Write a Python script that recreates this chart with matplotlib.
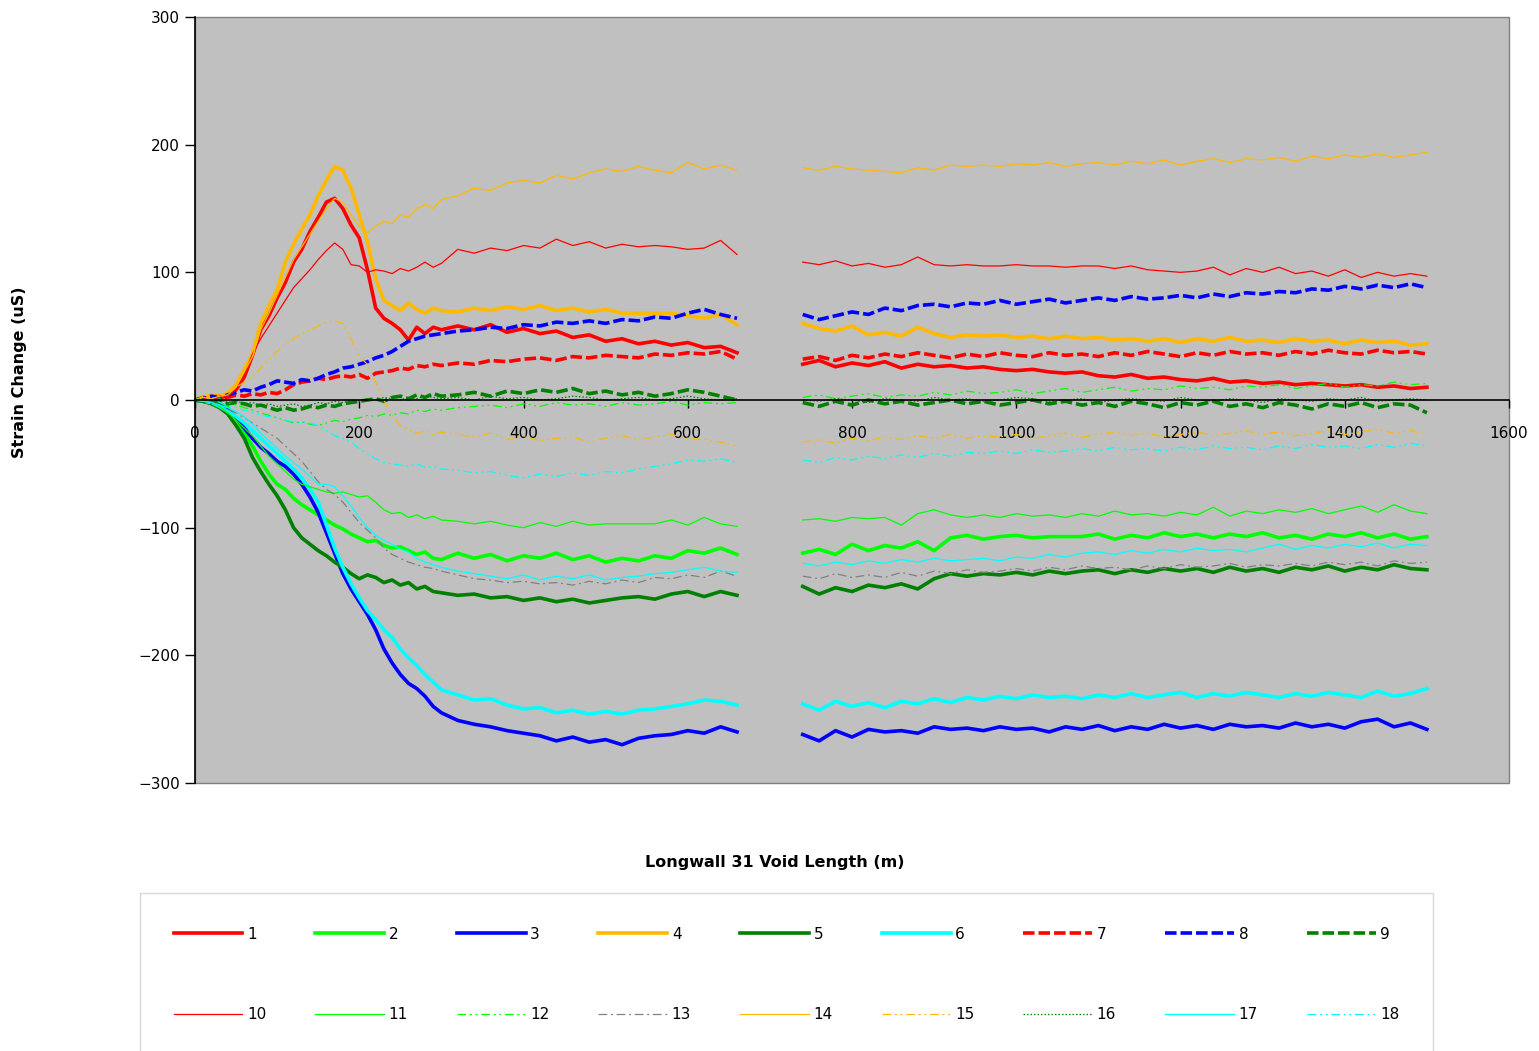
import matplotlib
matplotlib.use("Agg")
import matplotlib.pyplot as plt
import numpy as np

plt.rcParams['font.family'] = ['DejaVu Sans']

# void length sampling (m): first panel run, then after the gap
x_a = list(range(0, 301, 10)) + list(range(320, 661, 20))
x_b = list(range(740, 1501, 20))

# ---- strain values (uS) ----
s1_a = [0, 1, -1, 2, 3, 8, 18, 35, 55, 66, 80, 92, 108, 118, 132, 143, 155, 158, 150, 137, 127, 102, 72, 64, 60, 55, 47, 57, 52, 57, 55,
        58, 55, 59, 53, 56, 52, 54, 49, 51, 46, 48, 44, 46, 43, 45, 41, 42, 37]
s1_b = [28, 31, 26, 29, 27, 30, 25, 28, 26, 27, 25, 26, 24, 23, 24, 22, 21, 22, 19, 18, 20, 17, 18, 16, 15, 17, 14, 15, 13, 14,
        12, 13, 12, 11, 12, 10, 11, 9, 10]

s2_a = [0, -1, 1, -3, -6, -14, -26, -36, -48, -58, -66, -70, -77, -82, -86, -90, -94, -98, -101, -105, -108, -111, -110, -114, -116, -115, -118, -121, -119, -124, -125,
        -120, -124, -121, -126, -122, -124, -120, -125, -122, -127, -124, -126, -122, -124, -118, -120, -116, -121]
s2_b = [-120, -117, -121, -113, -118, -114, -116, -111, -118, -108, -106, -109, -107, -106, -108, -107, -107, -107, -105, -109, -106, -108, -104, -107, -105, -108, -105, -107, -104, -108,
        -106, -109, -105, -107, -104, -108, -105, -109, -107]

s3_a = [0, -1, -2, -4, -8, -14, -22, -30, -37, -42, -48, -52, -58, -66, -76, -88, -104, -120, -136, -148, -158, -168, -180, -195, -206, -215, -222, -226, -232, -240, -245,
        -251, -254, -256, -259, -261, -263, -267, -264, -268, -266, -270, -265, -263, -262, -259, -261, -256, -260]
s3_b = [-262, -267, -259, -264, -258, -260, -259, -261, -256, -258, -257, -259, -256, -258, -257, -260, -256, -258, -255, -259, -256, -258, -254, -257, -255, -258, -254, -256, -255, -257,
        -253, -256, -254, -257, -252, -250, -256, -253, -258]

s4_a = [0, 2, 4, 3, 5, 12, 24, 36, 60, 74, 86, 108, 122, 134, 145, 160, 172, 183, 180, 166, 145, 124, 95, 78, 74, 70, 76, 71, 68, 72, 70,
        69, 72, 70, 73, 71, 74, 70, 72, 69, 71, 68, 68, 68, 68, 66, 64, 67, 59]
s4_b = [60, 56, 54, 58, 51, 53, 50, 57, 52, 49, 51, 50, 51, 49, 50, 48, 50, 48, 49, 47, 48, 46, 48, 45, 48, 46, 49, 46, 47, 45,
        48, 46, 47, 44, 47, 45, 46, 43, 44]

s5_a = [0, -1, -3, -6, -11, -20, -30, -45, -56, -66, -75, -86, -100, -108, -113, -118, -122, -127, -131, -136, -140, -137, -139, -143, -141, -145, -143, -148, -146, -150, -151,
        -153, -152, -155, -154, -157, -155, -158, -156, -159, -157, -155, -154, -156, -152, -150, -154, -150, -153]
s5_b = [-146, -152, -147, -150, -145, -147, -144, -148, -140, -136, -138, -136, -137, -135, -137, -134, -136, -134, -133, -136, -133, -135, -132, -134, -132, -135, -131, -134, -132, -135,
        -131, -133, -130, -134, -131, -133, -129, -132, -133]

s6_a = [0, -1, -2, -5, -9, -13, -18, -24, -30, -36, -42, -48, -54, -61, -70, -80, -98, -116, -131, -144, -155, -165, -172, -180, -186, -195, -202, -208, -215, -221, -227,
        -231, -235, -234, -239, -242, -241, -245, -243, -246, -244, -246, -243, -242, -240, -238, -235, -236, -239]
s6_b = [-238, -243, -236, -240, -237, -241, -236, -238, -234, -237, -233, -235, -232, -234, -231, -233, -232, -234, -231, -233, -230, -233, -231, -229, -233, -230, -232, -229, -231, -233,
        -230, -232, -229, -231, -233, -228, -232, -230, -226]

s7_a = [0, 2, 1, 3, 2, 4, 3, 5, 4, 6, 5, 8, 12, 14, 15, 17, 16, 18, 19, 18, 20, 17, 21, 22, 23, 25, 24, 27, 26, 28, 27,
        29, 28, 31, 30, 32, 33, 31, 34, 33, 35, 34, 33, 36, 35, 37, 36, 38, 32]
s7_b = [32, 34, 31, 35, 33, 36, 34, 37, 35, 33, 36, 34, 37, 35, 34, 37, 35, 36, 34, 37, 35, 38, 36, 34, 37, 35, 38, 36, 37, 35,
        38, 36, 39, 37, 36, 39, 37, 38, 36]

s8_a = [0, 1, 3, 2, 4, 6, 8, 7, 10, 12, 15, 14, 13, 16, 15, 17, 20, 22, 25, 26, 28, 30, 33, 35, 38, 42, 46, 48, 50, 51, 52,
        54, 55, 57, 56, 59, 58, 61, 60, 62, 60, 63, 62, 65, 64, 68, 71, 67, 64]
s8_b = [67, 63, 66, 69, 67, 72, 70, 74, 75, 73, 76, 75, 78, 75, 77, 79, 76, 78, 80, 78, 81, 79, 80, 82, 80, 83, 81, 84, 83, 85,
        84, 87, 86, 89, 87, 90, 88, 91, 88]

s9_a = [0, -1, -2, -1, -3, -2, -3, -5, -4, -6, -8, -6, -8, -7, -5, -6, -4, -5, -3, -2, -1, 0, 1, -1, 2, 3, 1, 4, 2, 5, 3,
        4, 6, 3, 7, 5, 8, 6, 9, 5, 7, 4, 6, 3, 5, 8, 6, 3, 0]
s9_b = [-2, -5, -1, -4, 0, -3, -1, -4, -2, 0, -3, -1, -4, -2, 0, -3, -1, -4, -2, -5, -1, -3, -6, -2, -4, -1, -5, -3, -6, -2,
        -4, -7, -3, -5, -2, -6, -3, -4, -10]

s10_a = [0, 1, 0, 2, 3, 8, 20, 36, 48, 58, 68, 78, 88, 95, 102, 110, 117, 123, 118, 106, 105, 100, 102, 101, 99, 103, 101, 104, 108, 104, 107,
         118, 115, 119, 117, 121, 119, 126, 121, 124, 119, 122, 120, 121, 120, 118, 119, 125, 114]
s10_b = [108, 106, 109, 105, 107, 104, 106, 112, 106, 105, 106, 105, 105, 106, 105, 105, 104, 105, 105, 103, 105, 102, 101, 100, 101, 104, 98, 103, 100, 104,
         99, 101, 97, 102, 96, 100, 97, 99, 97]

s11_a = [0, -1, -2, -5, -10, -16, -22, -28, -36, -44, -50, -56, -62, -66, -68, -70, -72, -73, -72, -74, -76, -75, -80, -86, -89, -88, -92, -90, -93, -91, -94,
         -95, -97, -95, -98, -100, -96, -99, -95, -98, -97, -97, -97, -97, -94, -98, -92, -97, -99]
s11_b = [-94, -93, -95, -92, -93, -92, -98, -89, -86, -90, -92, -90, -92, -89, -91, -90, -92, -89, -91, -87, -90, -89, -91, -88, -90, -84, -91, -87, -89, -86,
         -88, -85, -89, -86, -83, -88, -82, -87, -89]

s12_a = [0, 2, -1, 1, -2, -4, -6, -8, -10, -12, -14, -16, -18, -17, -19, -20, -18, -16, -17, -15, -14, -12, -13, -11, -12, -10, -11, -8, -9, -7, -8,
         -6, -5, -4, -6, -3, -5, -2, -4, -3, -5, -2, -4, -3, -1, -4, -2, -3, -2]
s12_b = [2, 4, 1, 3, 5, 2, 4, 3, 6, 4, 7, 5, 6, 8, 5, 7, 9, 6, 8, 10, 7, 9, 8, 11, 9, 10, 8, 11, 10, 12,
         9, 11, 13, 10, 12, 11, 14, 12, 13]

s13_a = [0, -1, -2, -4, -7, -10, -14, -18, -22, -26, -30, -36, -42, -48, -56, -64, -70, -74, -80, -88, -96, -102, -108, -116, -121, -124, -127, -129, -131, -132, -134,
         -137, -140, -141, -143, -142, -144, -143, -145, -142, -144, -141, -143, -139, -140, -137, -139, -134, -138]
s13_b = [-138, -140, -136, -139, -137, -139, -135, -138, -134, -136, -133, -135, -134, -132, -134, -131, -133, -130, -132, -131, -133, -130, -132, -129, -131, -130, -128, -131, -129, -130,
         -128, -130, -127, -129, -127, -130, -126, -128, -127]

s14_a = [0, 2, 1, 3, 4, 10, 22, 34, 55, 68, 82, 96, 110, 120, 130, 140, 150, 158, 155, 145, 136, 131, 136, 140, 138, 145, 143, 150, 153, 150, 157,
         160, 166, 164, 170, 172, 170, 176, 173, 178, 181, 179, 183, 180, 178, 186, 181, 184, 180]
s14_b = [182, 180, 183, 181, 180, 179, 178, 182, 180, 184, 183, 184, 183, 185, 184, 186, 183, 185, 186, 184, 187, 185, 188, 184, 187, 189, 186, 189, 188, 190,
         187, 191, 189, 192, 190, 193, 190, 192, 194]

s15_a = [0, 3, 1, 4, 6, 10, 14, 18, 25, 32, 38, 44, 48, 52, 55, 58, 61, 62, 60, 48, 34, 28, 14, 0, -12, -20, -23, -26, -24, -27, -25,
         -27, -29, -26, -31, -28, -32, -30, -29, -33, -30, -28, -31, -29, -27, -30, -31, -33, -36]
s15_b = [-33, -31, -34, -30, -32, -29, -31, -28, -30, -27, -30, -28, -29, -27, -30, -28, -26, -29, -27, -25, -28, -26, -29, -27, -25, -28, -26, -24, -27, -25,
         -28, -26, -24, -27, -25, -23, -26, -24, -27]

s16_a = [0, 1, -1, 0, -2, -1, -3, -2, -4, -3, -5, -4, -3, -5, -4, -2, -3, -1, -2, 0, -1, 1, 0, 2, 1, 0, 2, 1, 3, 2, 1,
         2, 0, 3, 1, 2, 0, 1, 3, 2, 0, 1, 2, 0, 1, 3, 1, 0, 1]
s16_b = [0, -1, 1, 0, -2, 1, 0, -1, 2, 0, 1, -1, 0, 2, 1, -1, 0, 1, -2, 0, 1, 0, -1, 2, 0, -1, 1, 0, -2, 1,
         0, -1, 1, 0, 2, -1, 0, 1, 0]

s17_a = [0, -1, -2, -4, -6, -9, -13, -19, -26, -32, -38, -44, -49, -54, -60, -66, -66, -68, -75, -83, -92, -100, -106, -110, -113, -117, -119, -124, -127, -129, -131,
         -134, -136, -138, -140, -137, -141, -138, -140, -137, -141, -139, -138, -136, -135, -133, -131, -134, -135]
s17_b = [-128, -130, -127, -129, -126, -128, -125, -127, -124, -126, -125, -124, -126, -123, -124, -121, -123, -120, -119, -121, -118, -120, -117, -119, -116, -118, -117, -119, -116, -113,
         -117, -114, -116, -113, -115, -112, -116, -113, -114]

s18_a = [0, -1, 1, -2, -4, -6, -8, -10, -12, -13, -14, -16, -17, -18, -18, -20, -24, -28, -30, -33, -38, -42, -46, -49, -50, -51, -52, -50, -53, -52, -54,
         -55, -57, -56, -59, -61, -58, -60, -57, -59, -56, -57, -54, -52, -50, -47, -48, -46, -49]
s18_b = [-47, -49, -45, -47, -44, -46, -43, -45, -42, -44, -41, -42, -40, -42, -39, -41, -40, -38, -40, -37, -39, -38, -40, -37, -39, -36, -38, -37, -39, -36,
         -38, -35, -37, -36, -38, -35, -37, -34, -36]

RED, LIME, BLUE, ORANGE, DKGREEN, CYAN, GRAY = "#ff0000", "#00ff00", "#0000ff", "#ffb900", "#008000", "#00ffff", "#808080"
THICK, THIN = 2.6, 0.9
dash_thick = (3.2, 1.1)
dash_dot_dot = (7, 3, 1.5, 3, 1.5, 3)
dash_dot = (7, 3, 1.5, 3)
dotted = (1.2, 1.6)

# label, seg a, seg b, colour, width, dash pattern (None = solid)
series = [
    ("1", s1_a, s1_b, RED, THICK, None),
    ("2", s2_a, s2_b, LIME, THICK, None),
    ("3", s3_a, s3_b, BLUE, THICK, None),
    ("4", s4_a, s4_b, ORANGE, THICK, None),
    ("5", s5_a, s5_b, DKGREEN, THICK, None),
    ("6", s6_a, s6_b, CYAN, THICK, None),
    ("7", s7_a, s7_b, RED, THICK, dash_thick),
    ("8", s8_a, s8_b, BLUE, THICK, dash_thick),
    ("9", s9_a, s9_b, DKGREEN, THICK, dash_thick),
    ("10", s10_a, s10_b, RED, THIN, None),
    ("11", s11_a, s11_b, LIME, THIN, None),
    ("12", s12_a, s12_b, LIME, THIN, dash_dot_dot),
    ("13", s13_a, s13_b, GRAY, THIN, dash_dot),
    ("14", s14_a, s14_b, ORANGE, THIN, None),
    ("15", s15_a, s15_b, ORANGE, THIN, dash_dot_dot),
    ("16", s16_a, s16_b, DKGREEN, THIN, dotted),
    ("17", s17_a, s17_b, CYAN, THIN, None),
    ("18", s18_a, s18_b, CYAN, THIN, dash_dot_dot),
]

fig = plt.figure(figsize=(15.39, 10.51), dpi=100)
ax = fig.add_axes([195/1539, 1-783/1051, (1509-195)/1539, (783-17)/1051])
ax.set_facecolor("#c0c0c0")
ax.patch.set_edgecolor("#808080")
ax.patch.set_linewidth(1.0)

handles = {}
for lab, ya, yb, col, lw, dash in series:
    kw = dict(color=col, lw=lw, solid_joinstyle="round")
    if dash is not None:
        kw["dashes"] = dash
    h, = ax.plot(x_a, ya, label=lab, **kw)
    ax.plot(x_b, yb, **kw)
    handles[lab] = h

ax.set_xlim(0, 1600)
ax.set_ylim(-300, 300)
ax.set_xticks(np.arange(0, 1601, 200))
ax.set_yticks(np.arange(-300, 301, 100))

for s in ["top", "right"]:
    ax.spines[s].set_visible(False)
ax.spines["bottom"].set_position(("data", 0))
ax.spines["bottom"].set_linewidth(1.2)
ax.spines["left"].set_linewidth(1.2)
ax.tick_params(axis="x", direction="out", length=6, width=1, pad=13, labelsize=11)
ax.tick_params(axis="y", direction="out", length=7, width=1, pad=4, labelsize=11)

fig.text(775/1539, 1-862/1051, "Longwall 31 Void Length (m)", ha="center", va="center",
         fontsize=11.5, fontweight="bold")
fig.text(20/1539, 1-372/1051, "Strain Change (uS)", ha="center", va="center",
         rotation=90, fontsize=11.5, fontweight="bold")

# legend is filled column by column, so interleave the two rows
order = []
for i in range(9):
    order += [str(i + 1), str(i + 10)]
leg = fig.legend([handles[k] for k in order], order, loc="upper left",
                 bbox_to_anchor=(140/1539, 1-893/1051, 1293/1539, 0), mode="expand",
                 ncol=9, fontsize=11, frameon=True, fancybox=False, edgecolor="#d0d0d0",
                 handlelength=4.5, handletextpad=0.3, borderpad=2.2, labelspacing=4.3,
                 borderaxespad=0)
leg.get_frame().set_linewidth(1.0)

fig.savefig("out.png", dpi=100)
